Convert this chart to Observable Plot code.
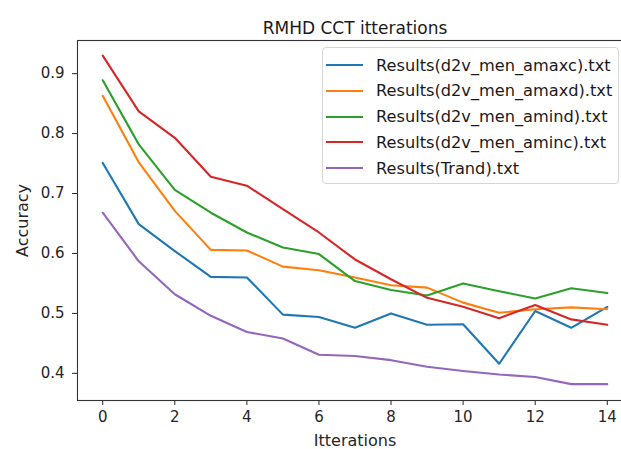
<!DOCTYPE html>
<html>
<head>
<meta charset="utf-8">
<script src="https://cdn.jsdelivr.net/npm/d3@7"></script>
<script src="https://cdn.jsdelivr.net/npm/@observablehq/plot@0.6"></script>
<style>
  html, body { margin: 0; padding: 0; background: #fff; }
  #wrap { position: relative; width: 621px; height: 449px; overflow: hidden; font-family: "DejaVu Sans", sans-serif; }
  #legend { position: absolute; left: 322px; top: 47px; width: 297px; height: 137px; box-sizing: border-box;
    border: 1px solid #d6d6d6; border-radius: 4px; background: rgba(255,255,255,0.85); }
  .row { position: absolute; left: 0; height: 20px; display: flex; align-items: center; font-size: 16.2px; color: #1a1a1a; white-space: nowrap; }
  .sw { width: 37px; height: 2px; margin-left: 3px; margin-right: 13px; }
</style>
</head>
<body>
<div id="wrap"></div>
<script>
const iterations = [0,1,2,3,4,5,6,7,8,9,10,11,12,13,14];
const seriesNames = [
  "Results(d2v_men_amaxc).txt",
  "Results(d2v_men_amaxd).txt",
  "Results(d2v_men_amind).txt",
  "Results(d2v_men_aminc).txt",
  "Results(Trand).txt"
];
const amaxc = [0.751,0.649,0.604,0.561,0.560,0.498,0.494,0.476,0.500,0.481,0.482,0.416,0.504,0.476,0.511];
const amaxd = [0.863,0.752,0.671,0.606,0.605,0.578,0.572,0.560,0.547,0.543,0.518,0.501,0.507,0.510,0.507];
const amind = [0.889,0.782,0.706,0.668,0.635,0.610,0.599,0.554,0.539,0.530,0.550,0.537,0.525,0.542,0.534];
const aminc = [0.930,0.837,0.793,0.728,0.713,0.674,0.635,0.590,0.557,0.526,0.511,0.492,0.514,0.490,0.481];
const trand = [0.668,0.587,0.532,0.496,0.469,0.458,0.431,0.429,0.422,0.411,0.404,0.398,0.394,0.382,0.382];
const colors = ["#1f77b4","#ff7f0e","#2ca02c","#d62728","#9467bd"];
const xTicks = [0,2,4,6,8,10,12,14];
const yTicks = [0.4,0.5,0.6,0.7,0.8,0.9];
const title = "RMHD CCT itterations";
const xLabel = "Itterations";
const yLabel = "Accuracy";

const allSeries = [amaxc, amaxd, amind, aminc, trand];
const data = [];
allSeries.forEach((vals, si) => vals.forEach((v, i) => data.push({series: seriesNames[si], x: iterations[i], y: v})));

const chart = Plot.plot({
  width: 621,
  height: 449,
  marginLeft: 77,
  marginTop: 40,
  marginBottom: 49,
  marginRight: -11,
  style: {fontFamily: "DejaVu Sans, sans-serif", fontSize: "15px", color: "#262626", background: "white", overflow: "hidden"},
  x: {domain: [-0.7, 14.7]},
  y: {domain: [0.3547, 0.9553]},
  color: {domain: seriesNames, range: colors},
  marks: [
    Plot.axisX({ticks: xTicks, tickSize: 5, tickPadding: 6, fontSize: 15, label: null}),
    Plot.axisX({ticks: [], label: xLabel, labelAnchor: "center", labelArrow: "none", labelOffset: 45, fontSize: 16}),
    Plot.axisY({ticks: yTicks, tickSize: 5, tickPadding: 8, tickFormat: d3.format(".1f"), fontSize: 15, label: null}),
    Plot.axisY({ticks: [], label: yLabel, labelAnchor: "center", labelArrow: "none", labelOffset: 61, fontSize: 16}),
    Plot.line(data, {x: "x", y: "y", z: "series", stroke: "series", strokeWidth: 2.1}),
    Plot.frame({stroke: "#333", strokeWidth: 1.1}),
    Plot.text([title], {frameAnchor: "top", dy: -19, fontSize: 17, fill: "#1a1a1a"})
  ]
});
const wrap = document.getElementById("wrap");
wrap.appendChild(chart);

const legend = document.createElement("div");
legend.id = "legend";
seriesNames.forEach((name, i) => {
  const row = document.createElement("div");
  row.className = "row";
  row.style.top = (7 + i * 25.8) + "px";
  const sw = document.createElement("div");
  sw.className = "sw";
  sw.style.background = colors[i];
  const t = document.createElement("span");
  t.textContent = name;
  row.appendChild(sw);
  row.appendChild(t);
  legend.appendChild(row);
});
wrap.appendChild(legend);
</script>
</body>
</html>
